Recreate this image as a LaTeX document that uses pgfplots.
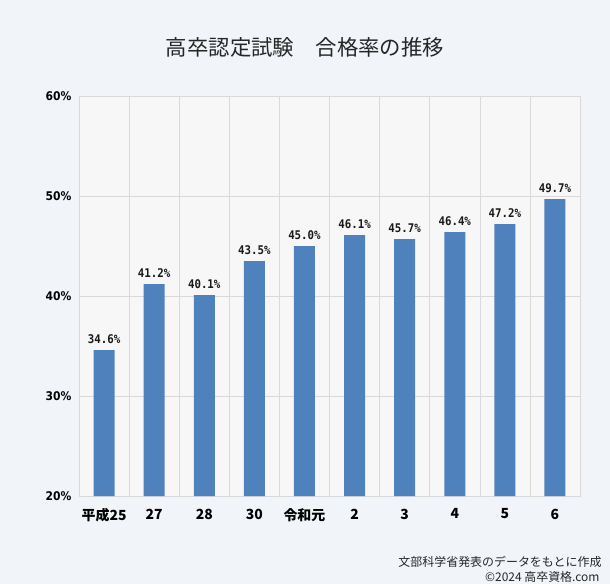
\documentclass[border=0pt]{standalone}
\usepackage{fontspec}
\setmainfont{Noto Sans CJK JP}
\newfontfamily\numfont{DejaVu Sans Condensed}
\newfontfamily\monofont[FakeStretch=0.9]{DejaVu Sans Mono}
\usepackage{pgfplots}
\pgfplotsset{compat=1.18}
\definecolor{bg}{HTML}{F1F5FA}
\definecolor{plotbg}{HTML}{F7F7F8}
\definecolor{barc}{HTML}{4F81BD}
\definecolor{gridc}{HTML}{D9D9D9}
\pgfplotstableread{
x y
0 34.6
1 41.2
2 40.1
3 43.5
4 45.0
5 46.1
6 45.7
7 46.4
8 47.2
9 49.7
}\ratedata
\begin{document}
\begin{tikzpicture}[x=1bp,y=1bp]
\fill[bg] (0,0) rectangle (610,-584);
\useasboundingbox (0,0) rectangle (610,-584);
\node[font=\fontsize{21.5}{23}\selectfont, text=black!85] at (305,-47) {高卒認定試験\hspace{1em}合格率の推移};
\begin{axis}[
  at={(79bp,-496bp)}, anchor=south west,
  scale only axis, width=501bp, height=400bp,
  xmin=-0.5, xmax=9.5, ymin=20, ymax=60,
  ytick={20,30,40,50,60},
  yticklabel={\pgfmathprintnumber{\tick}\%},
  /pgf/number format/assume math mode=true,
  yticklabel style={font=\numfont\bfseries\fontsize{12}{13}\selectfont, xshift=-4bp},
  xtick={0,...,9},
  xticklabels={平成25,27,28,30,令和元,2,3,4,5,6},
  xticklabel style={font=\bfseries\fontsize{14}{15}\selectfont, yshift=-5bp},
  minor xtick={-0.5,0.5,...,9.5},
  xminorgrids=true, ymajorgrids=true,
  grid style={gridc, line width=0.6pt},
  minor grid style={gridc, line width=0.6pt},
  axis line style={gridc, line width=0.6pt},
  major tick style={draw=none}, minor tick style={draw=none},
  axis background/.style={fill=plotbg},
  ybar, bar width=21bp, bar shift=0pt,
  nodes near coords={\pgfmathprintnumber[fixed,precision=1,fixed zerofill]{\pgfplotspointmeta}\%},
  every node near coord/.append style={font=\monofont\bfseries\fontsize{12}{13}\selectfont, text=black!90, yshift=3bp},
]
\addplot[fill=barc, draw=none] table[x=x,y=y] {\ratedata};
\end{axis}
\node[anchor=east, font=\fontsize{12}{13}\selectfont, text=black!85] at (605,-562) {文部科学省発表のデータをもとに作成};
\node[anchor=east, font=\fontsize{12}{13}\selectfont, text=black!85] at (603,-577) {©2024 高卒資格.com};
\end{tikzpicture}
\end{document}
